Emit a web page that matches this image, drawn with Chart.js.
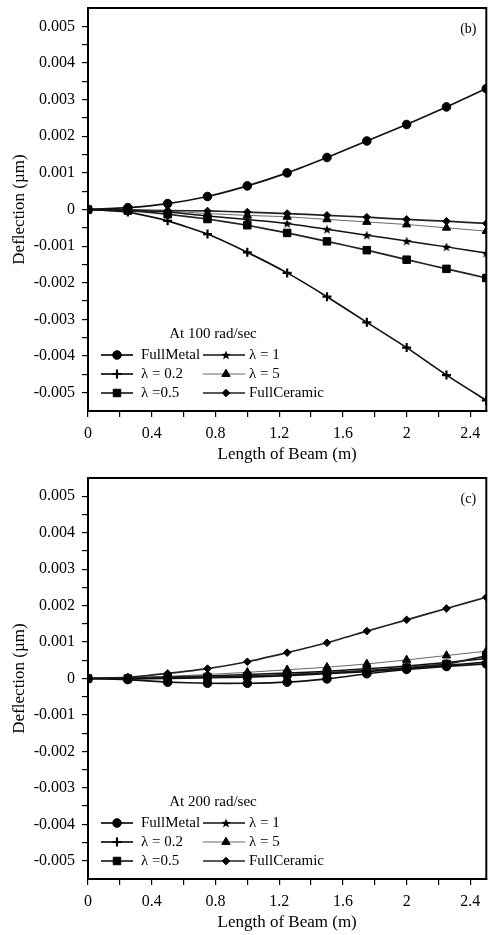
<!DOCTYPE html>
<html>
<head>
<meta charset="utf-8">
<script src="https://cdn.jsdelivr.net/npm/chart.js@4.4.1/dist/chart.umd.min.js"></script>
<style>
  html, body { margin: 0; padding: 0; background: #fff; }
  .panel { position: relative; width: 493px; }
  #panelB { height: 467px; }
  #panelC { height: 468px; }
</style>
</head>
<body>
<div class="panel" id="panelB"><canvas id="chartB"></canvas></div>
<div class="panel" id="panelC"><canvas id="chartC"></canvas></div>
<script>
// ── beam positions (m) ──
const beamX = [0, 0.25, 0.5, 0.75, 1, 1.25, 1.5, 1.75, 2, 2.25, 2.5];

// ── deflection (µm) at 100 rad/sec ──
const b_fullMetal   = [0, 0.00005, 0.00016, 0.000355, 0.000645, 0.00100, 0.00142, 0.00187, 0.00232, 0.00280, 0.00330];
const b_lambda02    = [0, -0.00007, -0.00031, -0.00067, -0.00117, -0.00173, -0.00238, -0.00308, -0.00377, -0.00452, -0.00521];
const b_lambda05    = [0, -0.00003, -0.00013, -0.00026, -0.00043, -0.00064, -0.00087, -0.00111, -0.00137, -0.00162, -0.00187];
const b_lambda1     = [0, -0.00002, -0.00007, -0.00018, -0.00027, -0.00038, -0.00054, -0.00070, -0.00086, -0.00102, -0.00119];
const b_lambda5     = [0, -0.00001, -0.00004, -0.00011, -0.00016, -0.00020, -0.00027, -0.00034, -0.00041, -0.00050, -0.00059];
const b_fullCeramic = [0, -0.00001, -0.00003, -0.00004, -0.00007, -0.00011, -0.00016, -0.00021, -0.00027, -0.00032, -0.00038];

// ── deflection (µm) at 200 rad/sec ──
const c_fullMetal   = [0, -0.00003, -0.00010, -0.00013, -0.00013, -0.00010, -0.00001, 0.00013, 0.00025, 0.00033, 0.00040];
const c_lambda02    = [0, -0.00001, 0.00000, 0.00002, 0.00004, 0.00008, 0.00013, 0.00019, 0.00027, 0.00036, 0.00045];
const c_lambda05    = [0, 0.00000, 0.00002, 0.00004, 0.00007, 0.00011, 0.00016, 0.00022, 0.00030, 0.00040, 0.00062];
const c_lambda1     = [0, 0.00001, 0.00004, 0.00007, 0.00011, 0.00015, 0.00020, 0.00027, 0.00034, 0.00044, 0.00055];
const c_lambda5     = [0, 0.00002, 0.00006, 0.00011, 0.00017, 0.00024, 0.00031, 0.00040, 0.00051, 0.00063, 0.00075];
const c_fullCeramic = [0, 0.00003, 0.00014, 0.00027, 0.00046, 0.00071, 0.00098, 0.00130, 0.00161, 0.00192, 0.00223];

const seriesNames = ['FullMetal', 'λ = 0.2', 'λ =0.5', 'λ = 1', 'λ = 5', 'FullCeramic'];

// ── axis ticks ──
const xTickLabels = [0, 0.4, 0.8, 1.2, 1.6, 2, 2.4];
const yTickLabels = [-0.005, -0.004, -0.003, -0.002, -0.001, 0, 0.001, 0.002, 0.003, 0.004, 0.005];
const xRange = [0, 2.5];
const yRange = [-0.0055, 0.0055];

// minor ticks sit halfway between labelled ones
function withMinor(labels) {
    const out = [];
    labels.forEach((v, i) => {
        out.push(v);
        if (i < labels.length - 1) out.push(+((v + labels[i + 1]) / 2).toFixed(6));
    });
    return out;
}

Chart.defaults.font.family = '"Liberation Serif", "Times New Roman", serif';
Chart.defaults.color = '#000';

// filled five-point star marker
function starImage(size) {
    const c = document.createElement('canvas');
    c.width = size; c.height = size;
    const g = c.getContext('2d');
    const r = size / 2, ri = r * 0.42;
    g.beginPath();
    for (let i = 0; i < 10; i++) {
        const rr = i % 2 ? ri : r;
        const a = -Math.PI / 2 + i * Math.PI / 5;
        const px = r + rr * Math.cos(a), py = r + 0.5 + rr * Math.sin(a);
        i ? g.lineTo(px, py) : g.moveTo(px, py);
    }
    g.closePath();
    g.fillStyle = '#000';
    g.fill();
    return c;
}
const starMarker = starImage(10);

const seriesStyle = [
    { pointStyle: 'circle',   pointRadius: 4.3, borderWidth: 1.7, borderColor: '#111', pointBorderWidth: 1 },
    { pointStyle: 'cross',    pointRadius: 4.5, borderWidth: 1.7, borderColor: '#111', pointBorderWidth: 2.2 },
    { pointStyle: 'rect',     pointRadius: 5.3, borderWidth: 1.7, borderColor: '#222', pointBorderWidth: 1 },
    { pointStyle: starMarker, pointRadius: 5,   borderWidth: 1.5, borderColor: '#111', pointBorderWidth: 0 },
    { pointStyle: 'triangle', pointRadius: 4.8, borderWidth: 0.9, borderColor: '#555', pointBorderWidth: 1 },
    { pointStyle: 'rectRot',  pointRadius: 3.8, borderWidth: 1.7, borderColor: '#222', pointBorderWidth: 1 }
];

// box around the plot area
const framePlugin = {
    id: 'frame',
    afterDraw(chart) {
        const { ctx, chartArea: a } = chart;
        ctx.save();
        ctx.strokeStyle = '#000';
        ctx.lineWidth = 2;
        ctx.strokeRect(a.left, a.top, a.right - a.left, a.bottom - a.top);
        ctx.restore();
    }
};

// two-column legend inside the plot area plus the panel tag
const insideLegend = {
    id: 'insideLegend',
    afterDraw(chart, args, opts) {
        const { ctx, chartArea: a } = chart;
        ctx.save();
        ctx.fillStyle = '#000';
        ctx.font = '15px "Liberation Serif", serif';
        ctx.textBaseline = 'middle';
        ctx.textAlign = 'center';
        ctx.fillText(opts.title, a.left + 125, a.bottom - 77);
        ctx.font = '14px "Liberation Serif", serif';
        ctx.fillText(opts.tag, a.right - 18, a.top + 21);

        ctx.font = '15px "Liberation Serif", serif';
        ctx.textAlign = 'left';
        const rows = [a.bottom - 56, a.bottom - 37, a.bottom - 18];
        const cols = [
            { x0: a.left + 13, x1: a.left + 45, mx: a.left + 29, tx: a.left + 53 },
            { x0: a.left + 115, x1: a.left + 157, mx: a.left + 138, tx: a.left + 161 }
        ];
        chart.data.datasets.forEach((ds, i) => {
            const col = cols[Math.floor(i / 3)];
            const y = rows[i % 3];
            ctx.strokeStyle = ds.borderColor;
            ctx.lineWidth = ds.borderWidth;
            ctx.beginPath();
            ctx.moveTo(col.x0, y);
            ctx.lineTo(col.x1, y);
            ctx.stroke();
            ctx.fillStyle = '#000';
            ctx.strokeStyle = '#000';
            ctx.lineWidth = ds.pointBorderWidth;
            Chart.helpers.drawPoint(ctx, {
                pointStyle: ds.pointStyle,
                radius: ds.pointRadius,
                rotation: 0,
                borderWidth: ds.pointBorderWidth
            }, col.mx, y);
            ctx.fillStyle = '#000';
            ctx.fillText(ds.label, col.tx, y);
        });
        ctx.restore();
    }
};

function makePanel(canvasId, series, title, tag, padTop, xAxisHeight) {
    const datasets = series.map((values, i) => Object.assign({
        label: seriesNames[i],
        data: beamX.map((x, k) => ({ x, y: values[k] })),
        backgroundColor: '#000',
        pointBackgroundColor: '#000',
        pointBorderColor: '#000',
        fill: false,
        tension: 0.15
    }, seriesStyle[i]));

    const xTicks = withMinor(xTickLabels);
    const yTicks = withMinor(yTickLabels);

    new Chart(document.getElementById(canvasId), {
        type: 'line',
        data: { datasets },
        options: {
            responsive: true,
            maintainAspectRatio: false,
            animation: false,
            layout: { padding: { top: padTop, right: 2, left: 0, bottom: 0 } },
            plugins: {
                legend: { display: false },
                tooltip: { enabled: false },
                insideLegend: { title, tag }
            },
            scales: {
                x: {
                    type: 'linear',
                    min: xRange[0],
                    max: xRange[1],
                    afterBuildTicks: s => { s.ticks = xTicks.map(v => ({ value: v })); },
                    afterFit: s => {
                        s.height = xAxisHeight;
                        s.paddingLeft = 0; s.paddingRight = 0;
                    },
                    grid: { drawOnChartArea: false, drawTicks: true, tickLength: 6, color: '#000', lineWidth: 1.2 },
                    border: { display: true, color: '#000', width: 2 },
                    ticks: {
                        padding: 7,
                        maxRotation: 0,
                        autoSkip: false,
                        font: { size: 16 },
                        color: '#000',
                        callback: v => xTickLabels.includes(v) ? String(v) : ''
                    },
                    title: {
                        display: true,
                        text: 'Length of Beam (m)',
                        font: { size: 17 },
                        color: '#000',
                        padding: { top: 0, bottom: 2 }
                    }
                },
                y: {
                    type: 'linear',
                    min: yRange[0],
                    max: yRange[1],
                    afterBuildTicks: s => { s.ticks = yTicks.map(v => ({ value: v })); },
                    afterFit: s => {
                        s.width = 88;
                        s.paddingTop = 0; s.paddingBottom = 0;
                    },
                    grid: { drawOnChartArea: false, drawTicks: true, tickLength: 6, color: '#000', lineWidth: 1.2 },
                    border: { display: true, color: '#000', width: 2 },
                    ticks: {
                        padding: 7,
                        autoSkip: false,
                        font: { size: 16 },
                        color: '#000',
                        callback: v => yTickLabels.includes(v) ? String(v) : ''
                    },
                    title: {
                        display: true,
                        text: 'Deflection (µm)',
                        font: { size: 17 },
                        color: '#000',
                        padding: { top: 9, bottom: 0 }
                    }
                }
            }
        },
        plugins: [framePlugin, insideLegend]
    });
}

makePanel('chartB',
    [b_fullMetal, b_lambda02, b_lambda05, b_lambda1, b_lambda5, b_fullCeramic],
    'At 100 rad/sec', '(b)', 8, 56);

makePanel('chartC',
    [c_fullMetal, c_lambda02, c_lambda05, c_lambda1, c_lambda5, c_fullCeramic],
    'At 200 rad/sec', '(c)', 11, 56);
</script>
</body>
</html>
